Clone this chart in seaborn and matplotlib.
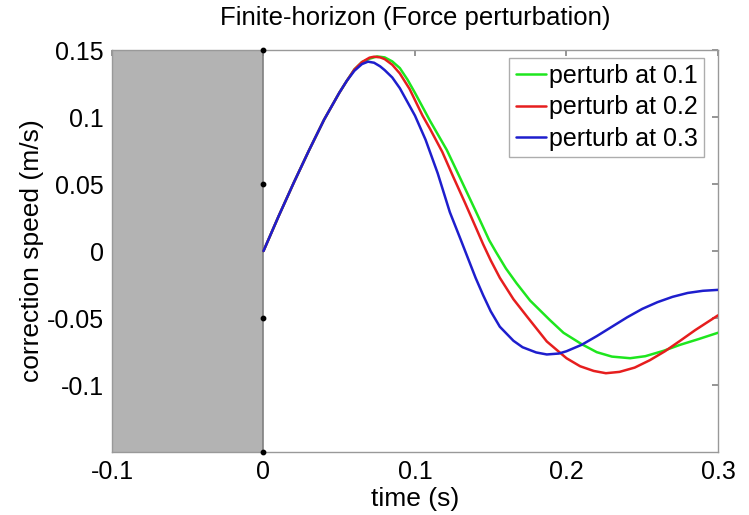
import numpy as np
import pandas as pd
import matplotlib
matplotlib.use('Agg')
import matplotlib.pyplot as plt
import seaborn as sns

# values (time in s, correction speed in m/s)
t_p1 = [0, 0.01, 0.02, 0.03, 0.04, 0.05, 0.055, 0.06, 0.065, 0.07, 0.075, 0.08, 0.085, 0.09,
        0.095, 0.1, 0.11, 0.121, 0.13, 0.14, 0.149, 0.1536, 0.16, 0.167, 0.176, 0.189, 0.198,
        0.21, 0.22, 0.23, 0.242, 0.252, 0.264, 0.275, 0.287, 0.3]
v_p1 = [0, 0.026, 0.051, 0.075, 0.098, 0.118, 0.127, 0.1355, 0.141, 0.1435, 0.1452, 0.1445,
        0.1415, 0.1365, 0.128, 0.118, 0.097, 0.0754, 0.054, 0.030, 0.008, -0.001, -0.013,
        -0.024, -0.037, -0.0515, -0.061, -0.0695, -0.0755, -0.0788, -0.080, -0.0785, -0.0745,
        -0.070, -0.0658, -0.061]

t_p2 = [0, 0.01, 0.02, 0.03, 0.04, 0.05, 0.055, 0.06, 0.065, 0.07, 0.073, 0.077, 0.08, 0.085,
        0.09, 0.0964, 0.105, 0.11, 0.118, 0.125, 0.133, 0.14, 0.145, 0.15, 0.156, 0.165, 0.174,
        0.187, 0.2, 0.209, 0.218, 0.226, 0.235, 0.245, 0.255, 0.265, 0.275, 0.285, 0.3]
v_p2 = [0, 0.026, 0.051, 0.075, 0.098, 0.118, 0.127, 0.1355, 0.141, 0.1443, 0.145, 0.1445,
        0.1432, 0.139, 0.1325, 0.121, 0.101, 0.091, 0.074, 0.056, 0.036, 0.018, 0.005, -0.007,
        -0.020, -0.036, -0.049, -0.0675, -0.080, -0.086, -0.0895, -0.0912, -0.0902, -0.087,
        -0.0815, -0.0748, -0.067, -0.059, -0.048]

t_p3 = [0, 0.01, 0.02, 0.03, 0.04, 0.05, 0.055, 0.06, 0.065, 0.069, 0.073, 0.077, 0.08, 0.085,
        0.09, 0.1, 0.107, 0.115, 0.123, 0.13, 0.14, 0.145, 0.15, 0.156, 0.165, 0.171, 0.18,
        0.187, 0.195, 0.2, 0.21, 0.22, 0.23, 0.24, 0.25, 0.26, 0.27, 0.28, 0.29, 0.3]
v_p3 = [0, 0.026, 0.051, 0.075, 0.098, 0.118, 0.127, 0.1345, 0.1395, 0.1413, 0.1405, 0.1378,
        0.135, 0.1295, 0.1215, 0.101, 0.083, 0.058, 0.029, 0.009, -0.020, -0.033, -0.045,
        -0.0565, -0.067, -0.0718, -0.0757, -0.0772, -0.0765, -0.0748, -0.070, -0.0635, -0.0565,
        -0.0495, -0.0432, -0.0382, -0.0342, -0.0313, -0.0297, -0.029]

labels = ['perturb at 0.1', 'perturb at 0.2', 'perturb at 0.3']
colors = ['#1ee61e', '#e61e1e', '#1e1ecd']

x_ticks = [-0.1, 0, 0.1, 0.2, 0.3]
x_ticklabels = ['-0.1', '0', '0.1', '0.2', '0.3']
y_ticks = [-0.1, -0.05, 0, 0.05, 0.1, 0.15]
y_ticklabels = ['-0.1', '-0.05', '0', '0.05', '0.1', '0.15']
dot_y = [0.15, 0.05, -0.05, -0.15]

sns.set_theme(style="white")
plt.rcParams['font.family'] = ['Liberation Sans', 'DejaVu Sans']
plt.rcParams['text.color'] = 'black'
plt.rcParams['axes.labelcolor'] = 'black'
plt.rcParams['xtick.color'] = 'black'
plt.rcParams['ytick.color'] = 'black'

fig = plt.figure(figsize=(7.49, 5.15), dpi=100)
ax = fig.add_axes([0.1495, 0.1223, 0.8091, 0.7806])

# grey "before perturbation" region
ax.axvspan(-0.1, 0, facecolor='#b3b3b3', edgecolor='none', zorder=0)
ax.axvline(0, color='#808080', linewidth=1.2, zorder=1)

for t, v, lab, col in zip([t_p1, t_p2, t_p3], [v_p1, v_p2, v_p3], labels, colors):
    sns.lineplot(x=t, y=v, color=col, linewidth=1.8, label=lab, ax=ax, zorder=3)

ax.scatter([0] * len(dot_y), dot_y, s=10, color='black', zorder=4, clip_on=False)

ax.set_xlim(-0.1, 0.3)
ax.set_ylim(-0.15, 0.15)
ax.set_xticks(x_ticks)
ax.set_xticklabels(x_ticklabels)
ax.set_yticks(y_ticks)
ax.set_yticklabels(y_ticklabels)
ax.tick_params(axis='both', direction='in', length=4, color='#888888', labelsize=18,
               labelcolor='black', top=True, right=True, pad=6)

for s in ax.spines.values():
    s.set_color('#999999')
    s.set_linewidth(1.0)

ax.set_xlabel('time (s)', fontsize=19, labelpad=2)
ax.set_ylabel('correction speed (m/s)', fontsize=19, labelpad=2)
ax.set_title('Finite-horizon (Force perturbation)', fontsize=18.5, pad=18)

leg = ax.legend(loc='upper right', fontsize=18, frameon=True, fancybox=False,
                handlelength=1.2, handletextpad=0.15, borderpad=0.25, labelspacing=0.3,
                borderaxespad=0.3, bbox_to_anchor=(0.99, 1.0))
leg.get_frame().set_edgecolor('#999999')
leg.get_frame().set_linewidth(1.0)

fig.savefig('out.png', dpi=100)
